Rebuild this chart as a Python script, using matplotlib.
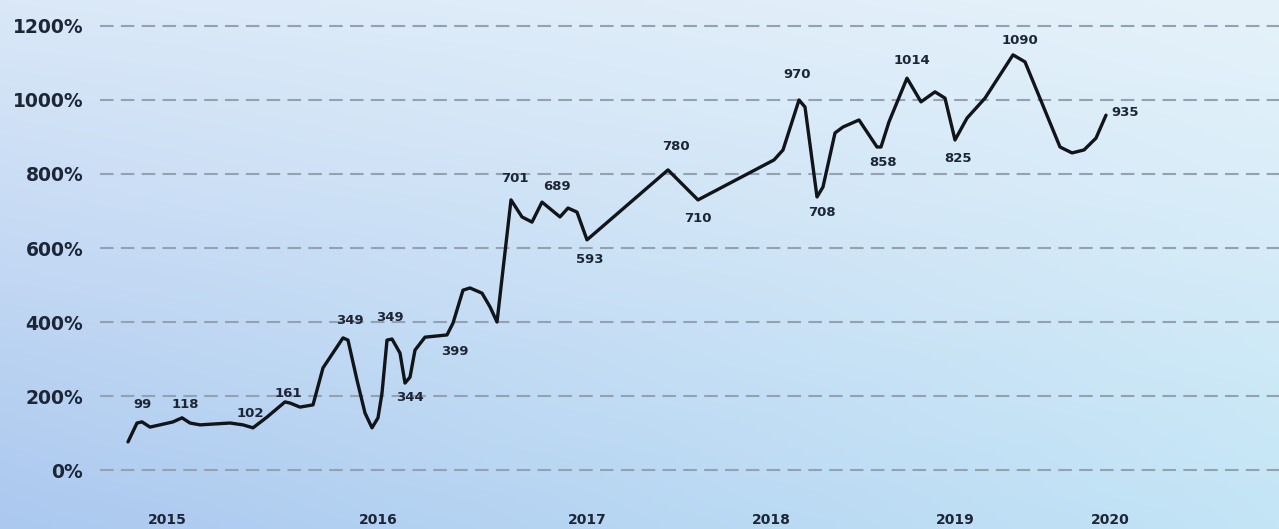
import numpy as np
import matplotlib
matplotlib.use("Agg")
import matplotlib.pyplot as plt
from matplotlib.colors import to_rgb

# position along the time axis (axis units) and growth in %
pos = [128, 137, 142, 150, 160, 173, 182, 190, 200, 230, 243, 253, 267, 285, 290,
       300, 313, 323, 343, 348, 357, 365, 372, 378, 382, 387, 392, 400, 405, 410,
       415, 425, 447, 453, 463, 470, 482, 490, 497, 511, 522, 532, 542, 560, 568,
       577, 587, 668, 698, 774, 783, 799, 805, 817, 823, 835, 843, 859, 877, 881,
       889, 907, 921, 935, 945, 955, 967, 985, 1013, 1025, 1060, 1072, 1084, 1096, 1106]
pct = [76, 127, 130, 116, 122, 130, 141, 127, 122, 127, 122, 114, 143, 184, 181,
       170, 176, 276, 357, 351, 243, 154, 114, 141, 208, 351, 354, 316, 235, 251,
       324, 359, 365, 397, 486, 492, 478, 441, 400, 730, 684, 670, 724, 684, 708,
       697, 622, 811, 730, 838, 865, 1000, 981, 738, 765, 911, 927, 946, 873, 873,
       941, 1059, 995, 1022, 1005, 892, 951, 1005, 1122, 1103, 873, 857, 865, 897, 959]

lab_text = ["99", "118", "102", "161", "349", "349", "344", "399", "701", "689",
            "593", "780", "710", "970", "708", "1014", "858", "825", "1090", "935"]
lab_x = [143, 185, 250, 288, 350, 390, 410, 455, 515, 557,
         590, 676, 698, 797, 822, 912, 883, 958, 1020, 1125]
lab_y = [176, 176, 154, 208, 405, 411, 197, 319, 789, 765,
         568, 873, 681, 1068, 695, 1108, 832, 843, 1162, 965]

years = ["2015", "2016", "2017", "2018", "2019", "2020"]
year_pos = [167, 378, 587, 771, 955, 1110]
yticks = [0, 200, 400, 600, 800, 1000, 1200]

W, H = 1279, 529
fig = plt.figure(figsize=(W / 100, H / 100), dpi=100)

# background gradient
bg = fig.add_axes([0, 0, 1, 1], zorder=0)
tl, tr = np.array(to_rgb("#dae8f8")), np.array(to_rgb("#e6f2fa"))
bl, br = np.array(to_rgb("#abc8ef")), np.array(to_rgb("#c3e5f6"))
u = np.linspace(0, 1, 200)[None, :, None]
v = np.linspace(0, 1, 100)[:, None, None]
img = (1 - v) * ((1 - u) * tl + u * tr) + v * ((1 - u) * bl + u * br)
bg.imshow(img, aspect="auto", extent=[0, 1, 0, 1], interpolation="bicubic")
bg.axis("off")

ax = fig.add_axes([100 / W, 29 / H, 1 - 100 / W, 1 - 29 / H], zorder=1)
ax.patch.set_alpha(0)
ax.set_xlim(100, W)
ax.set_ylim((470 - 500) / 0.37, 470 / 0.37)

for yv in yticks:
    ax.axhline(yv, color="#93a1b0", lw=1.5, ls=(0, (6.5, 3.5)), zorder=1)

ax.plot(pos, pct, color="#111418", lw=2.4, solid_joinstyle="round",
        solid_capstyle="round", zorder=3)

for t, x, y in zip(lab_text, lab_x, lab_y):
    ax.text(x, y, t, ha="center", va="center", fontsize=9.5, fontweight="bold",
            color="#1d2636", zorder=4)

ax.set_yticks(yticks)
ax.set_yticklabels([f"{v}%" for v in yticks], fontsize=13.5, fontweight="bold",
                   color="#1d2636")
ax.tick_params(axis="y", length=0, pad=12)
ax.set_xticks([])
for s in ax.spines.values():
    s.set_visible(False)

for t, x in zip(years, year_pos):
    ax.text(x, (470 - 520) / 0.37, t, ha="center", va="center", fontsize=10,
            fontweight="bold", color="#1d2636", clip_on=False)

fig.savefig("out.png", dpi=100)
